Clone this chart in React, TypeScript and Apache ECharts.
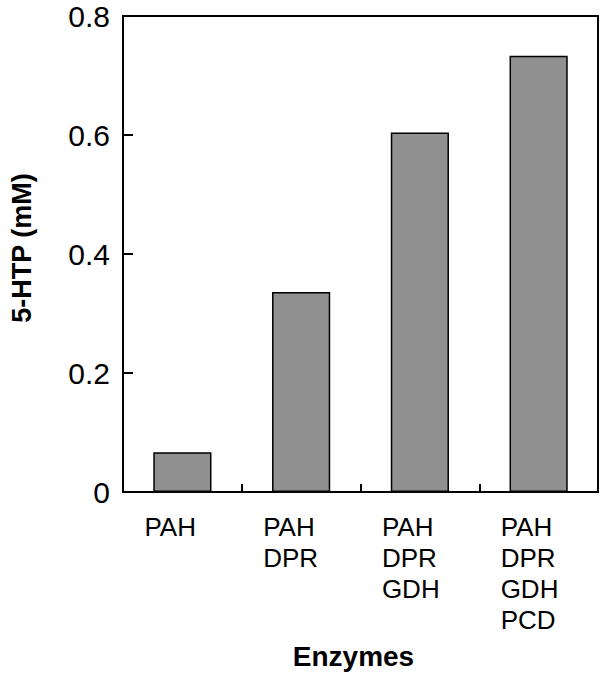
import React, { useEffect, useRef } from "react";
import * as echarts from "echarts";

const categories = ["PAH", "PAH\nDPR", "PAH\nDPR\nGDH", "PAH\nDPR\nGDH\nPCD"];
const values = [0.067, 0.336, 0.604, 0.733];
const yMin = 0;
const yMax = 0.8;
const yInterval = 0.2;
const yTitle = "5-HTP (mM)";
const xTitle = "Enzymes";

export default function App() {
  const ref = useRef<HTMLDivElement>(null);
  useEffect(() => {
    document.body.style.margin = "0";
    const chart = echarts.init(ref.current!, null, { renderer: "svg" });
    const font = "'Liberation Sans', Arial, Helvetica, sans-serif";
    chart.setOption({
      animation: false,
      grid: {
        left: 121,
        right: 2,
        top: 16,
        bottom: 185,
        show: true,
        borderColor: "#000",
        borderWidth: 2,
        backgroundColor: "transparent",
      },
      xAxis: {
        type: "category",
        data: categories,
        name: xTitle,
        nameLocation: "middle",
        nameGap: 150,
        nameTextStyle: {
          fontFamily: font,
          fontWeight: "bold",
          fontSize: 28,
          color: "#000",
          padding: [0, 14, 0, 0],
        },
        axisLine: { show: true, lineStyle: { color: "#000", width: 2 } },
        axisTick: {
          show: true,
          inside: true,
          length: 8,
          alignWithLabel: false,
          lineStyle: { color: "#000", width: 2 },
        },
        axisLabel: {
          show: true,
          interval: 0,
          margin: 19,
          width: 76,
          align: "center",
          verticalAlign: "top",
          formatter: (v: string) => v.split("\n").map((s) => `{a|${s}}`).join("\n"),
          rich: {
            a: {
              align: "left",
              fontFamily: font,
              fontSize: 26,
              lineHeight: 31,
              color: "#000",
            },
          },
        },
        splitLine: { show: false },
      },
      yAxis: {
        type: "value",
        min: yMin,
        max: yMax,
        interval: yInterval,
        name: yTitle,
        nameLocation: "middle",
        nameGap: 88,
        nameRotate: 90,
        nameTextStyle: {
          fontFamily: font,
          fontWeight: "bold",
          fontSize: 27,
          color: "#000",
          padding: [0, 0, 0, 12],
        },
        axisLine: { show: true, lineStyle: { color: "#000", width: 2 } },
        axisTick: {
          show: true,
          inside: true,
          length: 10,
          lineStyle: { color: "#000", width: 2 },
        },
        axisLabel: {
          margin: 13,
          fontFamily: font,
          fontSize: 30,
          color: "#000",
          formatter: (v: number) => (v === 0 ? "0" : v.toFixed(1)),
        },
        splitLine: { show: false },
      },
      series: [
        {
          type: "bar",
          data: values,
          barWidth: "49%",
          itemStyle: {
            color: "#919191",
            borderColor: "#000",
            borderWidth: 1.5,
          },
        },
      ],
    });
    return () => chart.dispose();
  }, []);
  return <div ref={ref} style={{ width: 600, height: 677 }} />;
}
